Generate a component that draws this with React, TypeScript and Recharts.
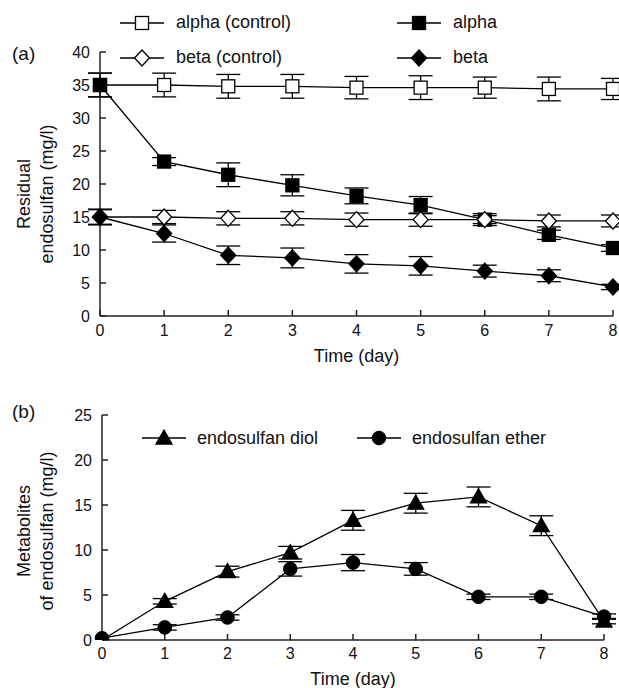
import React from 'react'
import { LineChart, Line, XAxis, YAxis, ErrorBar, Legend } from 'recharts'

// days of incubation
const days = [0, 1, 2, 3, 4, 5, 6, 7, 8]

// (a) residual endosulfan, mg/l
const alphaControl = [35, 35, 34.8, 34.8, 34.6, 34.6, 34.6, 34.4, 34.4]
const alphaControlErr = [1.8, 1.8, 1.8, 1.8, 1.7, 1.8, 1.6, 1.8, 1.6]
const alpha = [35, 23.4, 21.4, 19.8, 18.2, 16.8, 14.6, 12.3, 10.3]
const alphaErr = [1.8, 0.6, 1.8, 1.6, 1.2, 1.3, 0.6, 0.7, 0.5]
const betaControl = [15, 15, 14.8, 14.8, 14.6, 14.6, 14.6, 14.4, 14.4]
const betaControlErr = [1.1, 1, 1, 1, 1, 1, 0.9, 0.9, 0.9]
const beta = [15, 12.5, 9.2, 8.8, 7.9, 7.6, 6.8, 6.1, 4.4]
const betaErr = [1.2, 1.3, 1.4, 1.5, 1.4, 1.4, 0.9, 0.9, 0.4]

// (b) metabolites, mg/l
const diol = [0, 4.3, 7.6, 9.7, 13.3, 15.2, 15.9, 12.7, 2.1]
const diolErr = [0, 0.3, 0.6, 0.7, 1.1, 1.1, 1.1, 1.1, 0.3]
const ether = [0.2, 1.4, 2.5, 7.9, 8.6, 7.9, 4.8, 4.8, 2.6]
const etherErr = [0, 0.3, 0.3, 0.8, 0.9, 0.7, 0.3, 0.3, 0.3]

const residualTicks = [0, 5, 10, 15, 20, 25, 30, 35, 40]
const metaboliteTicks = [0, 5, 10, 15, 20, 25]

const residualData = days.map((d, i) => ({
  day: d,
  ac: alphaControl[i], acErr: alphaControlErr[i],
  a: alpha[i], aErr: alphaErr[i],
  bc: betaControl[i], bcErr: betaControlErr[i],
  b: beta[i], bErr: betaErr[i],
}))

const metaboliteData = days.map((d, i) => ({
  day: d,
  diol: diol[i], diolErr: diolErr[i],
  ether: ether[i], etherErr: etherErr[i],
}))

type Shape = 'openSquare' | 'square' | 'openDiamond' | 'diamond' | 'triangle' | 'circle'

const shapeOf: Record<string, Shape> = {
  ac: 'openSquare', a: 'square', bc: 'openDiamond', b: 'diamond',
  diol: 'triangle', ether: 'circle',
}

const FONT = '"Liberation Sans", Arial, sans-serif'
const INK = '#111'

function Marker({ shape, cx, cy }: { shape: Shape; cx: number; cy: number }) {
  const sw = 1.3
  switch (shape) {
    case 'openSquare':
    case 'square':
      return (
        <rect x={cx - 6.5} y={cy - 6.5} width={13} height={13}
          fill={shape === 'square' ? '#000' : '#fff'} stroke="#000" strokeWidth={sw} />
      )
    case 'openDiamond':
    case 'diamond':
      return (
        <polygon points={`${cx},${cy - 8} ${cx + 7.5},${cy} ${cx},${cy + 8} ${cx - 7.5},${cy}`}
          fill={shape === 'diamond' ? '#000' : '#fff'} stroke="#000" strokeWidth={sw} />
      )
    case 'triangle':
      return (
        <polygon points={`${cx},${cy - 8} ${cx + 8},${cy + 6} ${cx - 8},${cy + 6}`}
          fill="#000" stroke="#000" strokeWidth={sw} />
      )
    default:
      return <circle cx={cx} cy={cy} r={6.8} fill="#000" stroke="#000" />
  }
}

const dotFor = (key: string) => (p: any) => (
  <Marker key={`${key}-${p.index}`} shape={shapeOf[key]} cx={p.cx} cy={p.cy} />
)

// legend keeps the drawing order of the series, not recharts' sorted order
function LegendBox({ payload, order, colWidth, rowHeight, gap }: any) {
  const items = order.map((k: string) => (payload || []).find((e: any) => e.dataKey === k)).filter(Boolean)
  return (
    <div style={{ display: 'grid', gridTemplateColumns: `${colWidth}px ${colWidth}px`, fontFamily: FONT }}>
      {items.map((e: any) => (
        <div key={e.dataKey} style={{ display: 'flex', alignItems: 'center', height: rowHeight }}>
          <svg width={44} height={20}>
            <line x1={0} y1={10} x2={44} y2={10} stroke="#000" strokeWidth={1.3} />
            <Marker shape={shapeOf[e.dataKey]} cx={22} cy={10} />
          </svg>
          <span style={{ marginLeft: gap, fontSize: 18, color: INK, whiteSpace: 'nowrap' }}>{e.value}</span>
        </div>
      ))}
    </div>
  )
}

const yTitle = (panel: string, lines: string[], cy: number, panelY: number) => () => (
  <g fontFamily={FONT} fill={INK}>
    <text x={12} y={panelY} fontSize={19} dominantBaseline="central">{panel}</text>
    <text x={24} y={cy} fontSize={18} textAnchor="middle" dominantBaseline="central"
      transform={`rotate(-90 24 ${cy})`}>{lines[0]}</text>
    <text x={47} y={cy} fontSize={18} textAnchor="middle" dominantBaseline="central"
      transform={`rotate(-90 47 ${cy})`}>{lines[1]}</text>
  </g>
)

const tick = { fontSize: 16, fill: INK, fontFamily: FONT }
const axisLine = { stroke: '#222', strokeWidth: 1.5 }
const tickLine = { stroke: '#222', strokeWidth: 1.5 }

function ResidualChart() {
  return (
    <LineChart width={619} height={370} data={residualData}
      margin={{ top: 52, right: 6, bottom: 0, left: 60 }}>
      <XAxis dataKey="day" type="number" domain={[0, 8]} ticks={days} height={54}
        tick={tick} axisLine={axisLine} tickLine={tickLine} tickSize={-6} tickMargin={15}
        label={{ value: 'Time (day)', position: 'insideBottom', offset: 8, fontSize: 18, fill: INK, fontFamily: FONT }} />
      <YAxis type="number" domain={[0, 40]} ticks={residualTicks} width={40} allowDataOverflow
        tick={tick} axisLine={axisLine} tickLine={tickLine} tickSize={-6} tickMargin={16}
        label={{ content: yTitle('(a)', ['Residual', 'endosulfan (mg/l)'], 194, 53) }} />
      <Legend verticalAlign="middle" align="center" layout="horizontal"
        wrapperStyle={{ position: 'absolute', left: 120, top: 5, width: 480, height: 70 }}
        content={(props: any) => (
          <LegendBox payload={props.payload} order={['ac', 'a', 'bc', 'b']} colWidth={277} rowHeight={35} gap={12} />
        )} />
      <Line dataKey="ac" name="alpha (control)" stroke="#000" strokeWidth={1.3} dot={dotFor('ac')}
        activeDot={false} isAnimationActive={false}>
        <ErrorBar dataKey="acErr" width={12} stroke="#000" strokeWidth={1.3} direction="y" isAnimationActive={false} />
      </Line>
      <Line dataKey="a" name="alpha" stroke="#000" strokeWidth={1.3} dot={dotFor('a')}
        activeDot={false} isAnimationActive={false}>
        <ErrorBar dataKey="aErr" width={12} stroke="#000" strokeWidth={1.3} direction="y" isAnimationActive={false} />
      </Line>
      <Line dataKey="bc" name="beta (control)" stroke="#000" strokeWidth={1.3} dot={dotFor('bc')}
        activeDot={false} isAnimationActive={false}>
        <ErrorBar dataKey="bcErr" width={12} stroke="#000" strokeWidth={1.3} direction="y" isAnimationActive={false} />
      </Line>
      <Line dataKey="b" name="beta" stroke="#000" strokeWidth={1.3} dot={dotFor('b')}
        activeDot={false} isAnimationActive={false}>
        <ErrorBar dataKey="bErr" width={12} stroke="#000" strokeWidth={1.3} direction="y" isAnimationActive={false} />
      </Line>
    </LineChart>
  )
}

function MetaboliteChart() {
  return (
    <LineChart width={619} height={318} data={metaboliteData}
      margin={{ top: 45, right: 15, bottom: 0, left: 62 }}>
      <XAxis dataKey="day" type="number" domain={[0, 8]} ticks={days} height={48}
        tick={tick} axisLine={axisLine} tickLine={tickLine} tickSize={-6} tickMargin={14}
        label={{ value: 'Time (day)', position: 'insideBottom', offset: 3, fontSize: 18, fill: INK, fontFamily: FONT }} />
      <YAxis type="number" domain={[0, 25]} ticks={metaboliteTicks} width={40} allowDataOverflow
        tick={tick} axisLine={axisLine} tickLine={tickLine} tickSize={-6} tickMargin={16}
        label={{ content: yTitle('(b)', ['Metabolites', 'of endosulfan (mg/l)'], 161, 41) }} />
      <Legend verticalAlign="middle" align="center" layout="horizontal"
        wrapperStyle={{ position: 'absolute', left: 142, top: 50, width: 440, height: 36 }}
        content={(props: any) => (
          <LegendBox payload={props.payload} order={['diol', 'ether']} colWidth={215} rowHeight={36} gap={11} />
        )} />
      <Line dataKey="diol" name="endosulfan diol" stroke="#000" strokeWidth={1.3} dot={dotFor('diol')}
        activeDot={false} isAnimationActive={false}>
        <ErrorBar dataKey="diolErr" width={12} stroke="#000" strokeWidth={1.3} direction="y" isAnimationActive={false} />
      </Line>
      <Line dataKey="ether" name="endosulfan ether" stroke="#000" strokeWidth={1.3} dot={dotFor('ether')}
        activeDot={false} isAnimationActive={false}>
        <ErrorBar dataKey="etherErr" width={12} stroke="#000" strokeWidth={1.3} direction="y" isAnimationActive={false} />
      </Line>
    </LineChart>
  )
}

export default function App() {
  return (
    <div style={{ position: 'absolute', left: 0, top: 0, width: 619, height: 688, background: '#fff', fontFamily: FONT }}>
      <div style={{ position: 'absolute', left: 0, top: 0 }}>
        <ResidualChart />
      </div>
      <div style={{ position: 'absolute', left: 0, top: 370 }}>
        <MetaboliteChart />
      </div>
    </div>
  )
}
